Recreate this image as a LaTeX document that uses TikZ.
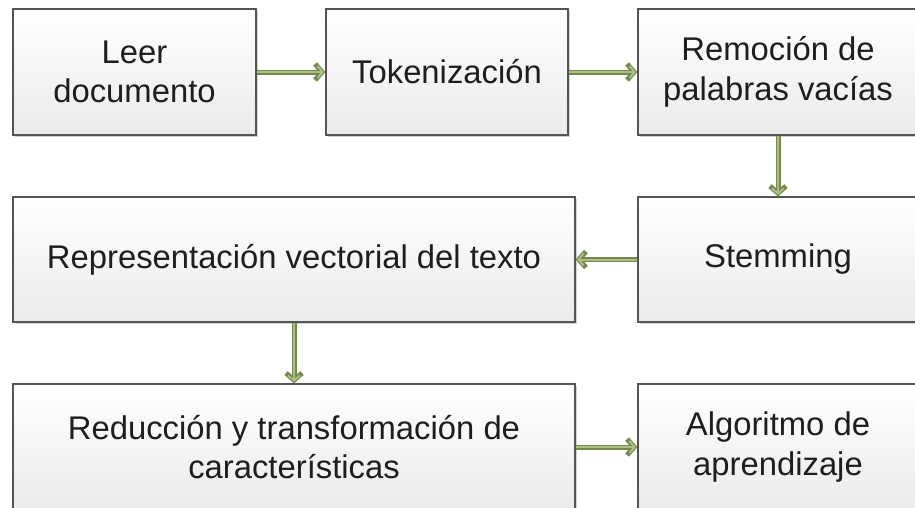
\documentclass[tikz,border=0pt]{standalone}
\usepackage{fontspec}
\setmainfont{Liberation Sans}
\usetikzlibrary{arrows.meta,shadows}
\definecolor{oliveD}{HTML}{77884F}
\definecolor{oliveL}{HTML}{AABE86}
\definecolor{boxline}{HTML}{555555}
\definecolor{txt}{HTML}{1E1E1E}
\tikzset{
  box/.style={draw=boxline, line width=1.2pt, top color=white, bottom color=black!8,
    drop shadow={shadow xshift=2pt, shadow yshift=-2pt, opacity=0.18, fill=black},
    align=center, text=txt, inner sep=0pt,
    font=\fontsize{32.8}{39.5}\selectfont},
  flow/.style={draw=oliveD, line width=5pt, -{Straight Barb[length=7pt,width=16pt]},
    postaction={draw=oliveL, line width=2pt, -{Straight Barb[length=5pt,width=12pt]}, shorten >=1.6pt}}
}
\begin{document}
\begin{tikzpicture}[x=1pt,y=-1pt]
\useasboundingbox (0,0) rectangle (915,507);
\clip (0,0) rectangle (915,507);
\fill[white] (0,0) rectangle (915,507);
\node[box, minimum width=243pt, minimum height=126pt] (leer) at (134.5,72) {Leer\\documento};
\node[box, minimum width=242pt, minimum height=126pt] (tok) at (447,72) {Tokenización};
\node[box, minimum width=280pt, minimum height=126pt] (rem) at (778,72) {Remoción de\\palabras vacías};
\node[box, minimum width=280pt, minimum height=125pt] (stem) at (778,259.5) {Stemming};
\node[box, minimum width=562pt, minimum height=125pt] (rep) at (294,259.5) {Representación vectorial del texto};
\node[box, minimum width=562pt, minimum height=126pt] (red) at (294,447) {Reducción y transformación de\\características};
\node[box, minimum width=280pt, minimum height=126pt] (alg) at (778,447) {Algoritmo de\\aprendizaje};
\draw[flow] (leer.east) -- (tok.west);
\draw[flow] (tok.east) -- (rem.west);
\draw[flow] (rem.south) -- (stem.north);
\draw[flow] (stem.west) -- (rep.east);
\draw[flow] (rep.south) -- (red.north);
\draw[flow] (red.east) -- (alg.west);
\end{tikzpicture}
\end{document}
